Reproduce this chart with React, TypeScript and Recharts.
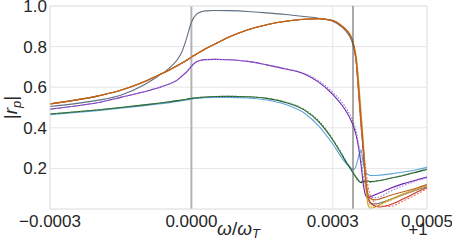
import { LineChart, Line, XAxis, YAxis, CartesianGrid, ReferenceLine } from "recharts";

// omega/omega_T - 1
const X = [
  -0.0003, -0.00025, -0.0002, -0.00015, -0.0001, -0.00007, -0.00005, -0.00003, -0.00002, -0.00001,
  0, 0.00001, 0.00002, 0.00003, 0.00005, 0.00008, 0.00012, 0.00016, 0.0002, 0.00024,
  0.00027, 0.0003, 0.00032, 0.00033, 0.00034, 0.000345, 0.00035, 0.000355, 0.00036, 0.000365,
  0.00037, 0.000375, 0.00038, 0.00039, 0.0004, 0.00042, 0.00045, 0.00048, 0.0005,
];

const X_TICKS = [-0.0003, 0, 0.0003, 0.0005];
const Y_TICKS = [0.2, 0.4, 0.6, 0.8, 1.0];
const RESONANCE = 0.000343;

const slate = [
  0.505, 0.518, 0.535, 0.56, 0.612, 0.655, 0.688, 0.735, 0.775, 0.842,
  0.92, 0.958, 0.971, 0.976, 0.978, 0.977, 0.973, 0.966, 0.958, 0.948,
  0.94, 0.925, 0.895, 0.87, 0.83, 0.79, 0.72, 0.58, 0.43, 0.28,
  0.13, 0.05, 0.03, 0.025, 0.03, 0.045, 0.07, 0.095, 0.11,
];
const brown = [
  0.518, 0.535, 0.556, 0.585, 0.627, 0.659, 0.681, 0.706, 0.719, 0.733,
  0.748, 0.762, 0.776, 0.789, 0.813, 0.847, 0.883, 0.908, 0.925, 0.935,
  0.937, 0.928, 0.9, 0.878, 0.84, 0.8, 0.73, 0.6, 0.44, 0.3,
  0.14, 0.07, 0.05, 0.045, 0.05, 0.065, 0.085, 0.105, 0.12,
];
const orange = [
  0.518, 0.535, 0.556, 0.585, 0.627, 0.659, 0.681, 0.706, 0.719, 0.733,
  0.748, 0.762, 0.776, 0.789, 0.813, 0.847, 0.883, 0.908, 0.925, 0.935,
  0.937, 0.928, 0.9, 0.878, 0.84, 0.8, 0.74, 0.61, 0.46, 0.33,
  0.17, 0.05, 0.015, 0.012, 0.02, 0.04, 0.07, 0.097, 0.115,
];
const gold = [
  0.518, 0.535, 0.556, 0.585, 0.627, 0.659, 0.681, 0.706, 0.719, 0.733,
  0.748, 0.762, 0.776, 0.789, 0.813, 0.847, 0.883, 0.908, 0.925, 0.935,
  0.937, 0.928, 0.902, 0.88, 0.845, 0.805, 0.75, 0.63, 0.48, 0.32,
  0.12, 0.02, 0.004, 0.01, 0.022, 0.045, 0.075, 0.1, 0.115,
];
const red = [
  0.518, 0.535, 0.556, 0.585, 0.627, 0.659, 0.681, 0.706, 0.719, 0.733,
  0.748, 0.762, 0.776, 0.789, 0.813, 0.847, 0.883, 0.908, 0.925, 0.935,
  0.937, 0.928, 0.9, 0.878, 0.84, 0.8, 0.72, 0.57, 0.42, 0.28,
  0.15, 0.06, 0.03, 0.015, 0.01, 0.02, 0.05, 0.085, 0.105,
];
const redDashed = [
  0.518, 0.535, 0.556, 0.585, 0.627, 0.659, 0.681, 0.706, 0.719, 0.733,
  0.748, 0.762, 0.776, 0.789, 0.813, 0.847, 0.883, 0.908, 0.925, 0.935,
  0.937, 0.928, 0.9, 0.878, 0.84, 0.8, 0.72, 0.56, 0.4, 0.3,
  0.2, 0.11, 0.065, 0.03, 0.015, 0.012, 0.04, 0.075, 0.1,
];
const purple = [
  0.492, 0.506, 0.523, 0.55, 0.578, 0.597, 0.613, 0.635, 0.655, 0.676,
  0.703, 0.724, 0.733, 0.736, 0.737, 0.735, 0.727, 0.71, 0.69, 0.665,
  0.625, 0.565, 0.51, 0.475, 0.43, 0.4, 0.36, 0.3, 0.22, 0.12,
  0.065, 0.055, 0.06, 0.07, 0.08, 0.1, 0.125, 0.145, 0.157,
];
const purpleDotted = [
  0.492, 0.506, 0.523, 0.55, 0.578, 0.597, 0.613, 0.635, 0.655, 0.676,
  0.703, 0.724, 0.733, 0.736, 0.737, 0.735, 0.727, 0.71, 0.692, 0.668,
  0.632, 0.575, 0.525, 0.49, 0.45, 0.42, 0.38, 0.32, 0.25, 0.16,
  0.1, 0.07, 0.06, 0.055, 0.06, 0.085, 0.115, 0.14, 0.155,
];
const green = [
  0.468, 0.478, 0.488, 0.5, 0.513, 0.521, 0.527, 0.534, 0.537, 0.541,
  0.545, 0.548, 0.55, 0.552, 0.554, 0.555, 0.553, 0.545, 0.525, 0.487,
  0.43, 0.34, 0.265, 0.225, 0.19, 0.172, 0.155, 0.14, 0.13, 0.135,
  0.14, 0.138, 0.135, 0.137, 0.14, 0.15, 0.165, 0.183, 0.195,
];
const greenDotted = [
  0.468, 0.478, 0.488, 0.5, 0.513, 0.521, 0.527, 0.534, 0.537, 0.541,
  0.545, 0.548, 0.55, 0.552, 0.554, 0.555, 0.553, 0.546, 0.527, 0.49,
  0.435, 0.345, 0.27, 0.23, 0.195, 0.17, 0.15, 0.135, 0.135, 0.14,
  0.138, 0.133, 0.132, 0.135, 0.14, 0.15, 0.167, 0.185, 0.197,
];
const lightBlue = [
  0.464, 0.474, 0.484, 0.496, 0.509, 0.517, 0.523, 0.53, 0.533, 0.537,
  0.541, 0.544, 0.546, 0.548, 0.55, 0.55, 0.547, 0.537, 0.515, 0.472,
  0.41, 0.32, 0.25, 0.22, 0.2, 0.195, 0.215, 0.26, 0.29, 0.22,
  0.18, 0.17, 0.165, 0.165, 0.167, 0.172, 0.182, 0.195, 0.205,
];

const SERIES = [
  { key: "lightBlue", values: lightBlue, color: "#5da5da", dash: undefined },
  { key: "green", values: green, color: "#1e5128", dash: undefined },
  { key: "greenDotted", values: greenDotted, color: "#4a8a4a", dash: "1.5 1.5" },
  { key: "purple", values: purple, color: "#6a22b0", dash: undefined },
  { key: "purpleDotted", values: purpleDotted, color: "#a07ad8", dash: "1.5 1.5" },
  { key: "slate", values: slate, color: "#5f6f80", dash: undefined },
  { key: "gold", values: gold, color: "#c9a227", dash: undefined },
  { key: "red", values: red, color: "#c0392b", dash: undefined },
  { key: "redDashed", values: redDashed, color: "#e86a5a", dash: "2 1.5" },
  { key: "orange", values: orange, color: "#f0a030", dash: "1.5 1.5" },
  { key: "brown", values: brown, color: "#b5651d", dash: undefined },
];

const FONT = "'Liberation Sans', Arial, sans-serif";
const TEXT = "#262626";
const GRID = "#e6e6e6";

function fmtX(v: number): string {
  if (v === 0) return "0.0000";
  if (v < 0) return "\u2212" + Math.abs(v).toFixed(4);
  return v.toFixed(4);
}

function XTick({ x, y, payload }: any) {
  return (
    <text x={x} y={y + 18} textAnchor="middle" fontSize={17} fill={TEXT} fontFamily={FONT}>
      {fmtX(payload.value)}
    </text>
  );
}

function YTick({ x, y, payload }: any) {
  return (
    <text x={x - 3} y={y + 6} textAnchor="end" fontSize={17} fill={TEXT} fontFamily={FONT}>
      {payload.value.toFixed(1)}
    </text>
  );
}

function XLabel({ viewBox }: any) {
  const cx = viewBox.x + viewBox.width / 2;
  return (
    <g fontFamily={FONT} fill={TEXT}>
      <text x={cx} y={235} textAnchor="middle" fontSize={19}>
        <tspan fontStyle="italic">ω</tspan>
        <tspan>/</tspan>
        <tspan fontStyle="italic">ω</tspan>
        <tspan fontStyle="italic" fontSize={13} dy={3}>T</tspan>
      </text>
      <text x={viewBox.x + viewBox.width - 9} y={235} textAnchor="middle" fontSize={17}>
        +1
      </text>
    </g>
  );
}

function YLabel({ viewBox }: any) {
  const cy = viewBox.y + viewBox.height / 2;
  return (
    <text
      x={17}
      y={cy}
      transform={`rotate(-90, 17, ${cy})`}
      textAnchor="middle"
      fontSize={19}
      fill={TEXT}
      fontFamily={FONT}
    >
      <tspan>|</tspan>
      <tspan fontStyle="italic">r</tspan>
      <tspan fontStyle="italic" fontSize={13} dy={4}>p</tspan>
      <tspan dy={-4}>|</tspan>
    </text>
  );
}

export default function App() {
  const lines = SERIES.map((s) => ({
    ...s,
    data: X.map((x, i) => ({ x, y: s.values[i] })),
  }));

  return (
    <div style={{ position: "fixed", left: 0, top: 0, background: "#fff" }}>
      <LineChart width={452} height={240} margin={{ top: 6, right: 25, bottom: 0, left: 0 }}>
        <CartesianGrid stroke={GRID} strokeWidth={1} />
        <XAxis
          dataKey="x"
          type="number"
          domain={[-0.0003, 0.0005]}
          ticks={X_TICKS}
          allowDataOverflow
          height={31}
          tickLine={false}
          tickSize={0}
          tickMargin={0}
          axisLine={{ stroke: GRID }}
          tick={<XTick />}
          interval={0}
          label={{ content: <XLabel /> }}
        />
        <YAxis
          type="number"
          domain={[0, 1]}
          ticks={Y_TICKS}
          allowDataOverflow
          width={50}
          tickLine={false}
          tickSize={0}
          tickMargin={0}
          axisLine={{ stroke: GRID }}
          tick={<YTick />}
          interval={0}
          label={{ content: <YLabel /> }}
        />
        <ReferenceLine x={0} stroke="#b4b4b4" strokeWidth={2} />
        <ReferenceLine x={0.0005} stroke={GRID} strokeWidth={1} />
        <ReferenceLine y={1} stroke={GRID} strokeWidth={1} />
        {lines.map((s) => (
          <Line
            key={s.key}
            data={s.data}
            dataKey="y"
            type="monotoneX"
            stroke={s.color}
            strokeWidth={1.1}
            strokeDasharray={s.dash}
            dot={false}
            activeDot={false}
            isAnimationActive={false}
          />
        ))}
        <ReferenceLine x={RESONANCE} stroke="#555555" strokeWidth={1} />
      </LineChart>
    </div>
  );
}
